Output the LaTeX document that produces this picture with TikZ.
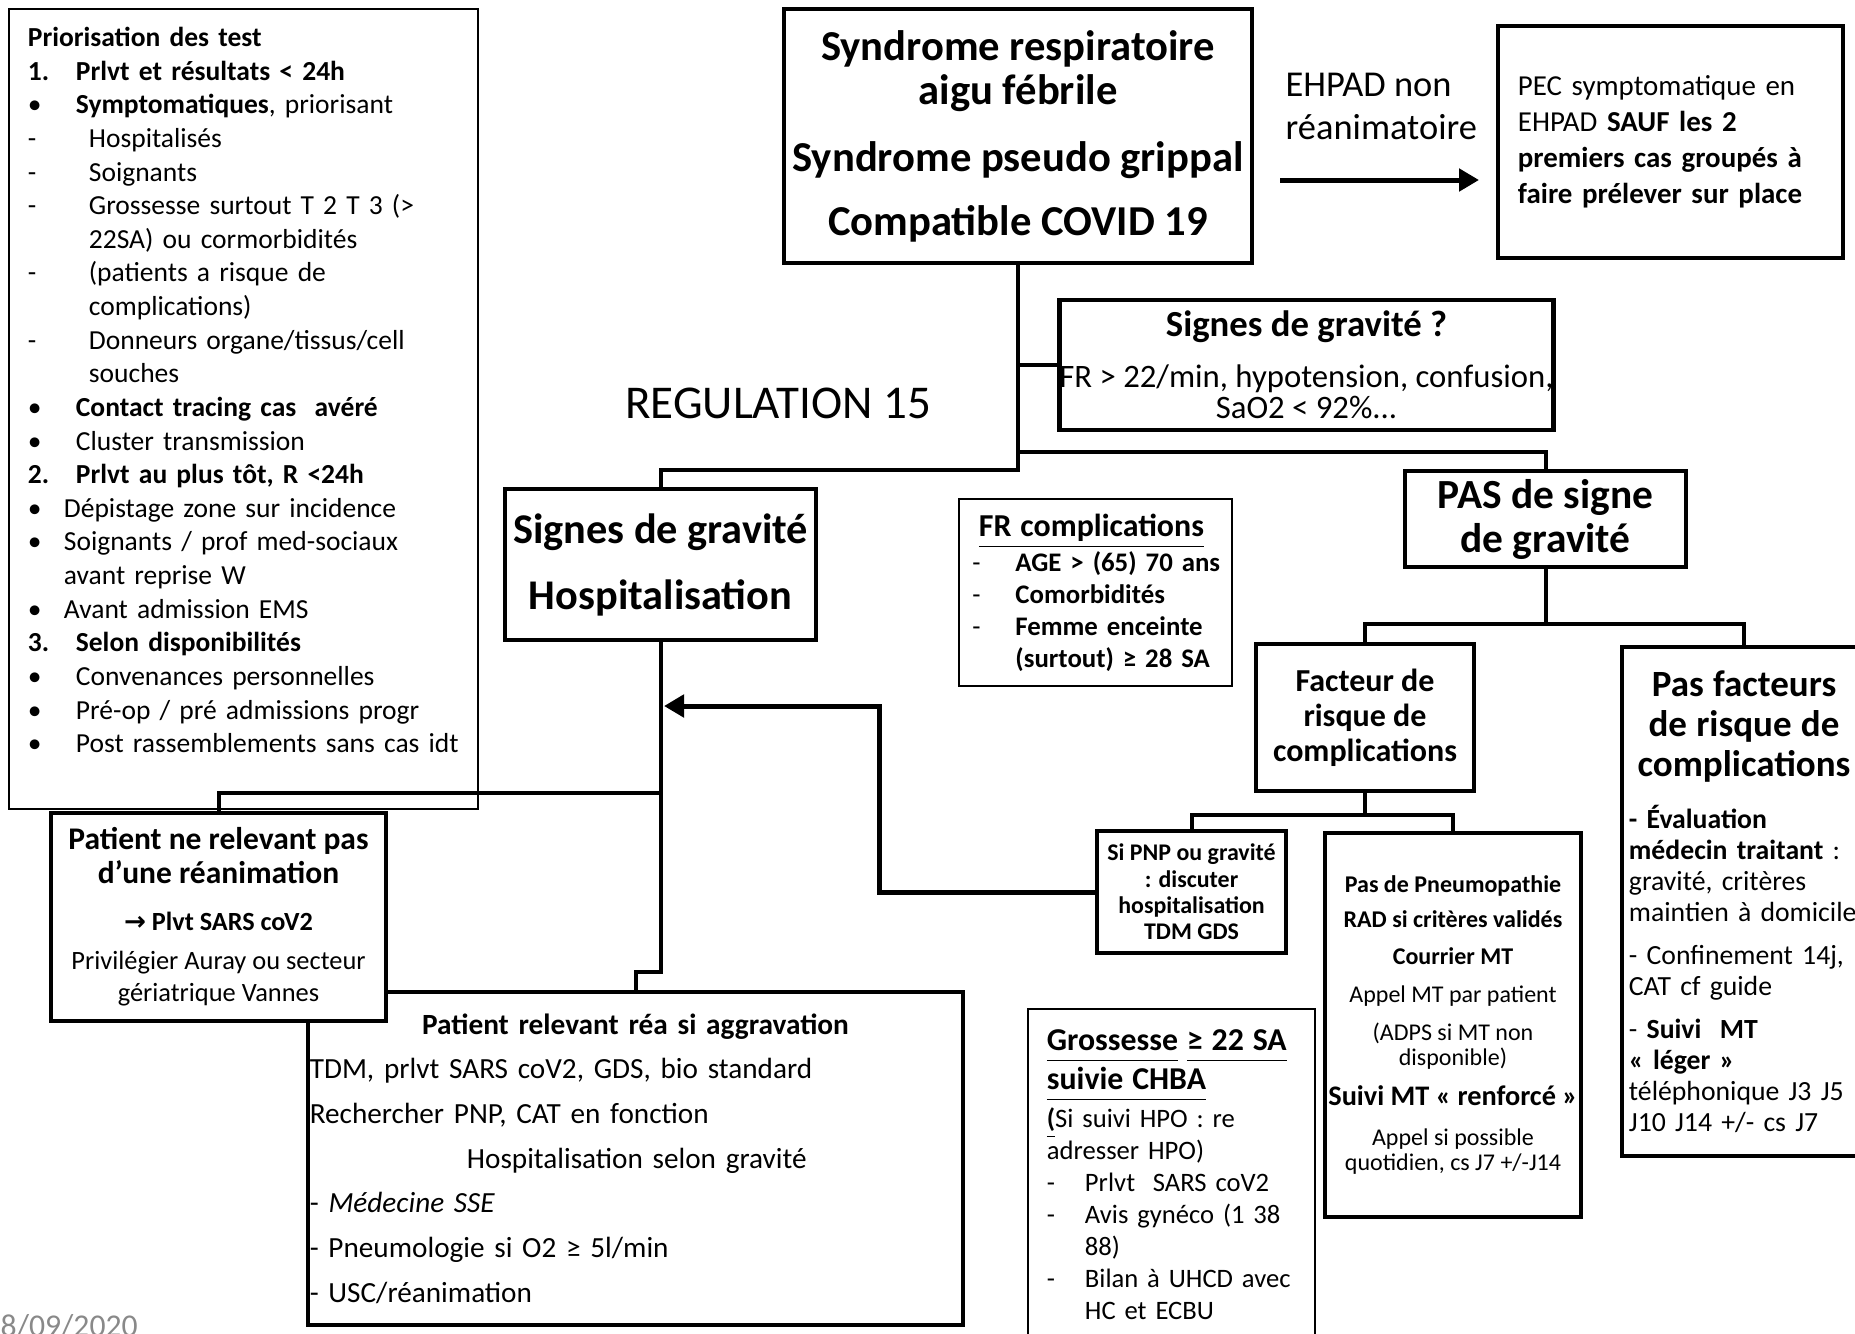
\documentclass[tikz,border=0pt]{standalone}
\usepackage{fontspec}
\setmainfont{Carlito}
\newfontfamily\arrowfont{DejaVu Sans}
\usetikzlibrary{arrows.meta,positioning}
\newcommand\fsz[2]{\fontsize{#1mm}{#2mm}\selectfont\lineskiplimit=-1cm\relax}
\newcommand\lmark[3]{\hspace*{#1}\makebox[#2][l]{#3}}
\newcommand\uln[1]{\underline{#1\vphantom{gp}}}
\begin{document}
\begin{tikzpicture}[x=0.01cm, y=-0.01cm, >={Triangle[length=0.2cm, width=0.22cm]},
  every node/.style={inner sep=0pt},
  box/.style={draw, line width=0.045cm, fill=white, align=center},
  thinbox/.style={draw, line width=0.018cm, fill=white},
  conn/.style={line width=0.04cm},
  bigarrow/.style={->, line width=0.05cm}]
\useasboundingbox (0,0) rectangle (1855,1333);
\node[thinbox, minimum width=4.69cm, minimum height=8cm, text width=4.69cm, align=left, font=\fsz{2.75}{3.36}] (prio) at (243.5,409) {%
\hspace*{1.9mm}\textbf{Priorisation des test}\\
\lmark{1.9mm}{4.8mm}{\textbf{1.}}\textbf{Prlvt et résultats < 24h}\\
\lmark{1.9mm}{4.8mm}{•}\textbf{Symptomatiques}, priorisant\\
\lmark{1.9mm}{6.1mm}{-}Hospitalisés\\
\lmark{1.9mm}{6.1mm}{-}Soignants\\
\lmark{1.9mm}{6.1mm}{-}Grossesse surtout T 2 T 3 (>\\
\hspace*{8mm}22SA) ou cormorbidités\\
\lmark{1.9mm}{6.1mm}{-}(patients a risque de\\
\hspace*{8mm}complications)\\
\lmark{1.9mm}{6.1mm}{-}Donneurs organe/tissus/cell\\
\hspace*{8mm}souches\\
\lmark{1.9mm}{4.8mm}{•}\textbf{Contact tracing cas\ \ avéré}\\
\lmark{1.9mm}{4.8mm}{•}Cluster transmission\\
\lmark{1.9mm}{4.8mm}{\textbf{2.}}\textbf{Prlvt au plus tôt, R <24h}\\
\lmark{1.9mm}{3.6mm}{•}Dépistage zone sur incidence\\
\lmark{1.9mm}{3.6mm}{•}Soignants / prof med-sociaux\\
\hspace*{5.5mm}avant reprise W\\
\lmark{1.9mm}{3.6mm}{•}Avant admission EMS\\
\lmark{1.9mm}{4.8mm}{\textbf{3.}}\textbf{Selon disponibilités}\\
\lmark{1.9mm}{4.8mm}{•}Convenances personnelles\\
\lmark{1.9mm}{4.8mm}{•}Pré-op / pré admissions progr\\
\lmark{1.9mm}{4.8mm}{•}Post rassemblements sans cas idt\\[0.44mm]\mbox{}};
\node[box, minimum width=4.68cm, minimum height=2.54cm, font=\bfseries\fsz{4.26}{4.4}] (synd) at (1018,136) {Syndrome respiratoire\\aigu fébrile\\[2.3mm]Syndrome pseudo grippal\\[2.0mm]Compatible COVID 19};
\node[anchor=west, align=left, font=\fsz{3.64}{4.3}] (ehpad) at (1285,106) {EHPAD non\\réanimatoire};
\node[box, minimum width=3.45cm, minimum height=2.32cm, text width=3.05cm, align=left, font=\fsz{2.89}{3.6}] (pec) at (1670.5,142) {PEC symptomatique en\\EHPAD \textbf{SAUF les 2}\\\textbf{premiers cas groupés à}\\\textbf{faire prélever sur place}};
\node[box, minimum width=4.87cm, minimum height=1.3cm, font=\fsz{3.27}{3.1}] (signes) at (1306.5,365) {{\bfseries\fsz{3.67}{3.1}Signes de gravité ?}\\[2.0mm]FR > 22/min, hypotension, confusion,\\SaO2 < 92\%...};
\node[font=\fsz{4.7}{5}] (regul) at (778,403) {REGULATION 15};
\node[box, minimum width=3.11cm, minimum height=1.51cm, font=\bfseries\fsz{4.23}{6.6}] (hosp) at (660.5,564.5) {Signes de gravité\\Hospitalisation};
\node[thinbox, minimum width=2.73cm, minimum height=1.87cm, text width=2.6cm, align=left, font=\bfseries\fsz{2.68}{3.2}] (frcomp) at (1095.5,592.5) {\hspace*{1.35mm}{\fsz{3.19}{3.2}\uln{FR complications}}\\[0.3mm]
\lmark{0.7mm}{4.3mm}{\mdseries -}\mbox{AGE > (65)\hspace{0.9mm}70 ans}\\
\lmark{0.7mm}{4.3mm}{\mdseries -}Comorbidités\\
\lmark{0.7mm}{4.3mm}{\mdseries -}Femme enceinte\\
\hspace*{5mm}\mbox{(surtout) ≥ 28 SA}};
\node[box, minimum width=2.81cm, minimum height=0.96cm, font=\bfseries\fsz{4.14}{4.4}] (pas) at (1545.5,519) {PAS de signe\\de gravité};
\node[box, minimum width=2.18cm, minimum height=1.47cm, font=\bfseries\fsz{3.2}{3.5}] (facteur) at (1365,717.5) {Facteur de\\risque de\\complications};
\node[box, minimum width=2.44cm, minimum height=5.09cm, text width=2.3cm, align=left, font=\fsz{2.77}{3.1}] (pasfact) at (1744,901.5) {%
\makebox[\linewidth]{\bfseries\fsz{3.7}{4}Pas facteurs}\\[0.9mm]
\makebox[\linewidth]{\bfseries\fsz{3.7}{4}de risque de}\\[0.9mm]
\makebox[\linewidth]{\bfseries\fsz{3.7}{4}complications}\\[2.1mm]
\textbf{- Évaluation}\\
\textbf{médecin traitant} :\\
gravité, critères\\
maintien à domicile\\[1.2mm]
- Confinement 14j,\\
CAT cf guide\\[1.2mm]
- \textbf{Suivi\ \ MT}\\
\textbf{«~léger~»}\\
téléphonique J3 J5\\
J10 J14 +/- cs J7};
\node[box, minimum width=1.89cm, minimum height=1.22cm, font=\bfseries\fsz{2.39}{2.63}] (sipnp) at (1191.5,892) {Si PNP ou gravité\\: discuter\\hospitalisation\\TDM GDS};
\node[box, minimum width=2.56cm, minimum height=3.84cm, font=\fsz{2.4}{2.5}] (pneumo) at (1453,1025) {\textbf{Pas de Pneumopathie}\\[1.0mm]\textbf{RAD si critères validés}\\[1.2mm]\textbf{Courrier MT}\\[1.25mm]Appel MT par patient\\[1.25mm](ADPS si MT non\\disponible)\\[1.5mm]{\bfseries\fsz{2.83}{2.5}Suivi MT «~renforcé~»}\\[1.5mm]Appel si possible\\quotidien, cs J7 +/-J14};
\node[thinbox, minimum width=2.87cm, minimum height=3.31cm, text width=2.49cm, align=left, font=\fsz{2.66}{3.2}] (gross) at (1171.5,1174.5) {%
{\bfseries\fsz{3.18}{3.2}\uln{Grossesse} \uln{≥ 22 SA}}\\[0.7mm]
{\bfseries\fsz{3.18}{3.2}\uln{suivie CHBA}}\\[0.6mm]
\textbf{\uln{(}}Si suivi HPO : re\\
adresser HPO)\\
\lmark{0mm}{3.8mm}{-}Prlvt\ \ SARS coV2\\
\lmark{0mm}{3.8mm}{-}Avis gynéco (1 38\\
\hspace*{3.8mm}88)\\
\lmark{0mm}{3.8mm}{-}Bilan à UHCD avec\\
\hspace*{3.8mm}HC et ECBU};
\node[box, minimum width=6.55cm, minimum height=3.33cm, text width=6.51cm, align=left, font=\fsz{2.92}{4.47}] (rea) at (635.5,1158.5) {%
\makebox[\linewidth]{\bfseries\fsz{2.93}{4.47}Patient relevant réa si aggravation}\\
TDM, prlvt SARS coV2, GDS, bio standard\\
Rechercher PNP, CAT en fonction\\
\hspace*{15.7mm}Hospitalisation selon gravité\\
- \textit{Médecine SSE}\\
- Pneumologie si O2 ≥ 5l/min\\
- USC/réanimation};
\node[box, minimum width=3.35cm, minimum height=2.08cm, font=\fsz{2.64}{3.2}] (pasrea) at (218.5,917) {{\bfseries\fsz{3.15}{3.2}Patient ne relevant pas}\\[0.2mm]{\bfseries\fsz{3.15}{3.2}d’une réanimation}\\[1.5mm]{\bfseries\fsz{2.62}{3.2}{\arrowfont →} Plvt SARS coV2}\\[0.7mm]Privilégier Auray ou secteur\\gériatrique Vannes};
\node[anchor=base west, text={rgb,255:red,137;green,137;blue,137}, font=\fsz{3.17}{3.5}] (date) at (0,1336) {8/09/2020};
\coordinate (ehpadA) at (1280,180);
\coordinate (ehpadB) at (1479,180);
\coordinate (forkA) at (1018,452);
\coordinate (forkB) at (1018,470);
\coordinate (forkC) at (1545.5,624);
\coordinate (forkD) at (1365,815);
\coordinate (forkE) at (660.5,793);
\coordinate (forkF) at (660.5,972);
\coordinate (bend) at (879,706);
\coordinate (back) at (664,706);
\draw[bigarrow] (ehpadA) -- (ehpadB);
\draw[conn] (synd.south) -- (forkB) -| (hosp.north);
\draw[conn] (signes.west) -- (signes.west -| synd.south);
\draw[conn] (forkA) -| (pas.north);
\draw[conn] (pas.south) -- (forkC);
\draw[conn] (facteur.north) |- (forkC) -| (pasfact.north);
\draw[conn] (facteur.south) -- (forkD);
\draw[conn] (sipnp.north) |- (forkD) -| (pneumo.north);
\draw[conn] (hosp.south) -- (forkF) -| (rea.north);
\draw[conn] (forkE) -| (pasrea.north);
\draw[bigarrow] (sipnp.west) -| (bend) -- (back);
\end{tikzpicture}
\end{document}
